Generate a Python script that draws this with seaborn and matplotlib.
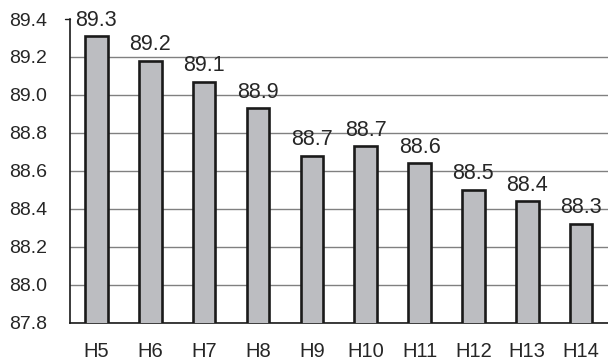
import matplotlib
matplotlib.use("Agg")
import matplotlib.pyplot as plt
import seaborn as sns
import pandas as pd
from matplotlib.ticker import FixedLocator

# values
years = ['H5', 'H6', 'H7', 'H8', 'H9', 'H10', 'H11', 'H12', 'H13', 'H14']
rates = [89.31, 89.18, 89.07, 88.93, 88.68, 88.73, 88.64, 88.50, 88.44, 88.32]
y_ticks = [87.8, 88.0, 88.2, 88.4, 88.6, 88.8, 89.0, 89.2, 89.4]

df = pd.DataFrame({'year': years, 'rate': rates})

sns.set_style('white')
plt.rcParams['font.family'] = ['Liberation Sans', 'DejaVu Sans']

fig = plt.figure(figsize=(6.08, 3.62), dpi=100)
ax = fig.add_axes([69.5 / 608, 39.5 / 362, 1 - 69.5 / 608, (322.5 - 19) / 362])

sns.barplot(data=df, x='year', y='rate', color='#bcbdc1', width=0.42,
            edgecolor='#1a1a1a', linewidth=1.9, saturation=1, ax=ax, zorder=3)

ax.set_ylim(87.8, 89.4)
ax.set_xlim(-0.5, len(years) - 0.5)
ax.set_yticks(y_ticks)
ax.set_yticklabels([f'{t:.1f}' for t in y_ticks], fontsize=14)
ax.yaxis.grid(True, color='#808080', linewidth=1.0, zorder=0)
ax.set_axisbelow(True)
ax.tick_params(axis='y', direction='in', length=4, width=1, color='#1a1a1a', pad=16)
ax.tick_params(axis='x', length=0, labelsize=14.5, pad=14)
ax.xaxis.set_minor_locator(FixedLocator([i + 0.5 for i in range(len(years) - 1)]))
ax.tick_params(axis='x', which='minor', direction='in', length=5, width=0.8, color='#555555')
ax.set_xlabel('')
ax.set_ylabel('')

# no grid line at the top edge, just a short tick out to the left
ax.get_ygridlines()[-1].set_visible(False)
ax.plot([-0.5 - 0.09, -0.5], [89.4, 89.4], color='#1a1a1a', lw=1, clip_on=False)

for side in ['top', 'right']:
    ax.spines[side].set_visible(False)
for side in ['left', 'bottom']:
    ax.spines[side].set_color('#1a1a1a')
    ax.spines[side].set_linewidth(1.2)

for i, v in enumerate(rates):
    ax.annotate(f'{v:.1f}', (i, v), xytext=(0, 4), textcoords='offset points',
                ha='center', va='bottom', fontsize=15.5, clip_on=False)

fig.savefig('out.png', dpi=100)
plt.close(fig)
